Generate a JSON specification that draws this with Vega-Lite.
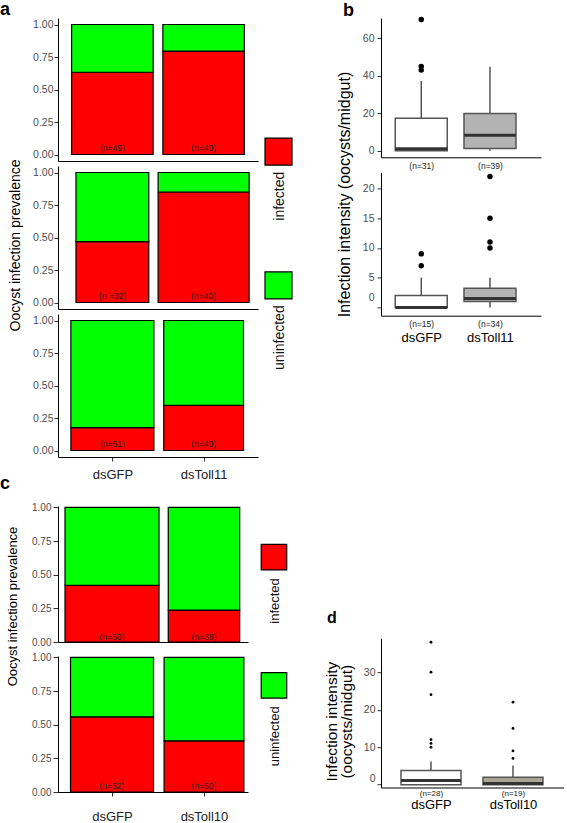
{
  "$schema": "https://vega.github.io/schema/vega-lite/v6.json",
  "background": "white",
  "padding": 0,
  "config": {
    "font": "Liberation Sans",
    "view": {"stroke": null},
    "axis": {"grid": false, "domainColor": "#000", "domainWidth": 1, "tickColor": "#333", "tickWidth": 1, "labelColor": "#4d4d4d", "titleColor": "#000", "titleFontWeight": "normal", "labelFont": "Liberation Sans", "titleFont": "Liberation Sans", "labelOverlap": false},
    "title": {"font": "Liberation Sans", "fontWeight": "bold", "anchor": "start", "frame": "group", "baseline": "alphabetic", "color": "#000"}
  },
  "datasets": {
    "prev": [
      {"panel": "a1", "group": "dsGFP", "n": 49, "status": "infected", "prop": 0.6327, "label": "(n=49)"},
      {"panel": "a1", "group": "dsGFP", "n": 49, "status": "uninfected", "prop": 0.3673, "label": "(n=49)"},
      {"panel": "a1", "group": "dsToll11", "n": 49, "status": "infected", "prop": 0.7959, "label": "(n=49)"},
      {"panel": "a1", "group": "dsToll11", "n": 49, "status": "uninfected", "prop": 0.2041, "label": "(n=49)"},
      {"panel": "a2", "group": "dsGFP", "n": 32, "status": "infected", "prop": 0.46875, "label": "(n =32)"},
      {"panel": "a2", "group": "dsGFP", "n": 32, "status": "uninfected", "prop": 0.53125, "label": "(n =32)"},
      {"panel": "a2", "group": "dsToll11", "n": 40, "status": "infected", "prop": 0.85, "label": "(n=40)"},
      {"panel": "a2", "group": "dsToll11", "n": 40, "status": "uninfected", "prop": 0.15, "label": "(n=40)"},
      {"panel": "a3", "group": "dsGFP", "n": 51, "status": "infected", "prop": 0.1765, "label": "(n=51)"},
      {"panel": "a3", "group": "dsGFP", "n": 51, "status": "uninfected", "prop": 0.8235, "label": "(n=51)"},
      {"panel": "a3", "group": "dsToll11", "n": 49, "status": "infected", "prop": 0.3469, "label": "(n=49)"},
      {"panel": "a3", "group": "dsToll11", "n": 49, "status": "uninfected", "prop": 0.6531, "label": "(n=49)"},
      {"panel": "c1", "group": "dsGFP", "n": 50, "status": "infected", "prop": 0.42, "label": "(n=50)"},
      {"panel": "c1", "group": "dsGFP", "n": 50, "status": "uninfected", "prop": 0.58, "label": "(n=50)"},
      {"panel": "c1", "group": "dsToll10", "n": 38, "status": "infected", "prop": 0.2368, "label": "(n=38)"},
      {"panel": "c1", "group": "dsToll10", "n": 38, "status": "uninfected", "prop": 0.7632, "label": "(n=38)"},
      {"panel": "c2", "group": "dsGFP", "n": 52, "status": "infected", "prop": 0.5577, "label": "(n=52)"},
      {"panel": "c2", "group": "dsGFP", "n": 52, "status": "uninfected", "prop": 0.4423, "label": "(n=52)"},
      {"panel": "c2", "group": "dsToll10", "n": 50, "status": "infected", "prop": 0.38, "label": "(n=50)"},
      {"panel": "c2", "group": "dsToll10", "n": 50, "status": "uninfected", "prop": 0.62, "label": "(n=50)"}
    ],
    "box": [
      {"panel": "b1", "group": "dsGFP", "n": 31, "lo": 0, "q1": 0, "med": 1, "q3": 17.3, "hi": 37.2},
      {"panel": "b1", "group": "dsToll11", "n": 39, "lo": 0, "q1": 1.2, "med": 8.2, "q3": 19.9, "hi": 44.8},
      {"panel": "b2", "group": "dsGFP", "n": 15, "lo": 0, "q1": 0, "med": 0, "q3": 2, "hi": 5},
      {"panel": "b2", "group": "dsToll11", "n": 34, "lo": 0, "q1": 1, "med": 1.5, "q3": 3.2, "hi": 5},
      {"panel": "d", "group": "dsGFP", "n": 28, "lo": 0, "q1": 0, "med": 1.1, "q3": 3.8, "hi": 6.2},
      {"panel": "d", "group": "dsToll10", "n": 19, "lo": 0, "q1": 0, "med": 0.3, "q3": 2.0, "hi": 5.1}
    ],
    "out": [
      {"panel": "b1", "group": "dsGFP", "value": 70},
      {"panel": "b1", "group": "dsGFP", "value": 45},
      {"panel": "b1", "group": "dsGFP", "value": 43},
      {"panel": "b2", "group": "dsGFP", "value": 9},
      {"panel": "b2", "group": "dsGFP", "value": 7},
      {"panel": "b2", "group": "dsToll11", "value": 22},
      {"panel": "b2", "group": "dsToll11", "value": 15},
      {"panel": "b2", "group": "dsToll11", "value": 11},
      {"panel": "b2", "group": "dsToll11", "value": 10},
      {"panel": "d", "group": "dsGFP", "value": 38},
      {"panel": "d", "group": "dsGFP", "value": 30},
      {"panel": "d", "group": "dsGFP", "value": 24},
      {"panel": "d", "group": "dsGFP", "value": 12},
      {"panel": "d", "group": "dsGFP", "value": 11},
      {"panel": "d", "group": "dsGFP", "value": 10},
      {"panel": "d", "group": "dsToll10", "value": 22},
      {"panel": "d", "group": "dsToll10", "value": 15},
      {"panel": "d", "group": "dsToll10", "value": 9},
      {"panel": "d", "group": "dsToll10", "value": 7}
    ]
  },
  "spacing": 0,
  "resolve": {"scale": {"color": "independent", "size": "independent"}},
  "hconcat": [
    {
      "spacing": -6,
      "resolve": {"scale": {"color": "independent", "size": "independent"}},
      "vconcat": [
        {
          "bounds": "flush",
          "spacing": 5,
          "resolve": {"scale": {"color": "independent", "size": "independent"}},
          "vconcat": [
            {
              "width": 200, "height": 143,
              "title": {"text": "a", "fontSize": 18, "dx": -58, "offset": -0.5},
              "data": {"name": "prev"},
              "transform": [{"filter": "datum.panel == 'a1'"}],
              "layer": [
                {
                  "mark": {"type": "bar", "stroke": "#000", "strokeWidth": 1.2},
                  "encoding": {
                    "x": {"field": "group", "type": "nominal", "scale": {"type": "point", "padding": 0.596, "align": 0.5}, "axis": {"title": null, "labels": false, "ticks": false}},
                    "y": {"field": "prop", "type": "quantitative", "stack": "zero", "scale": {"domain": [-0.05, 1.05], "nice": false, "zero": false}, "axis": {"title": null, "values": [0, 0.25, 0.5, 0.75, 1], "tickCount": 20, "format": ".2f", "tickSize": 4, "labelPadding": 1, "labelFontSize": 10.5, "labelOverlap": false}},
                    "color": {"field": "status", "type": "nominal", "scale": {"domain": ["infected", "uninfected"], "range": ["#ff0000", "#00ff00"]}, "legend": null},
                    "size": {"field": "n", "type": "quantitative", "scale": {"domain": [0, 49], "range": [0, 81.5]}, "legend": null},
                    "order": {"field": "status", "sort": "ascending"}
                  }
                },
                {
                  "transform": [{"filter": "datum.status == 'infected'"}],
                  "mark": {"type": "text", "fontSize": 8.5, "color": "#222"},
                  "encoding": {"x": {"field": "group", "type": "nominal"}, "y": {"datum": 0.05}, "text": {"field": "label"}}
                }
              ]
            },
            {
              "width": 200, "height": 143,
              "data": {"name": "prev"},
              "transform": [{"filter": "datum.panel == 'a2'"}],
              "layer": [
                {
                  "mark": {"type": "bar", "stroke": "#000", "strokeWidth": 1.2},
                  "encoding": {
                    "x": {"field": "group", "type": "nominal", "scale": {"type": "point", "padding": 0.596, "align": 0.5}, "axis": {"title": null, "labels": false, "ticks": false}},
                    "y": {"field": "prop", "type": "quantitative", "stack": "zero", "scale": {"domain": [-0.05, 1.05], "nice": false, "zero": false}, "axis": {"title": "Oocyst infection prevalence", "titleFontSize": 14, "titlePadding": 10, "titleY": 79, "values": [0, 0.25, 0.5, 0.75, 1], "tickCount": 20, "format": ".2f", "tickSize": 4, "labelPadding": 1, "labelFontSize": 10.5, "labelOverlap": false}},
                    "color": {"field": "status", "type": "nominal", "scale": {"domain": ["infected", "uninfected"], "range": ["#ff0000", "#00ff00"]}, "legend": null},
                    "size": {"field": "n", "type": "quantitative", "scale": {"domain": [0, 40], "range": [0, 91]}, "legend": null},
                    "order": {"field": "status", "sort": "ascending"}
                  }
                },
                {
                  "transform": [{"filter": "datum.status == 'infected'"}],
                  "mark": {"type": "text", "fontSize": 8.5, "color": "#222"},
                  "encoding": {"x": {"field": "group", "type": "nominal"}, "y": {"datum": 0.05}, "text": {"field": "label"}}
                }
              ]
            },
            {
              "width": 200, "height": 143,
              "data": {"name": "prev"},
              "transform": [{"filter": "datum.panel == 'a3'"}],
              "layer": [
                {
                  "mark": {"type": "bar", "stroke": "#000", "strokeWidth": 1.2},
                  "encoding": {
                    "x": {"field": "group", "type": "nominal", "scale": {"type": "point", "padding": 0.596, "align": 0.5}, "axis": {"title": null, "labelAngle": 0, "labelFontSize": 13, "labelColor": "#222", "tickSize": 4, "labelPadding": 7}},
                    "y": {"field": "prop", "type": "quantitative", "stack": "zero", "scale": {"domain": [-0.05, 1.05], "nice": false, "zero": false}, "axis": {"title": null, "values": [0, 0.25, 0.5, 0.75, 1], "tickCount": 20, "format": ".2f", "tickSize": 4, "labelPadding": 1, "labelFontSize": 10.5, "labelOverlap": false}},
                    "color": {"field": "status", "type": "nominal", "scale": {"domain": ["infected", "uninfected"], "range": ["#ff0000", "#00ff00"]}, "legend": null},
                    "size": {"field": "n", "type": "quantitative", "scale": {"domain": [0, 51], "range": [0, 83]}, "legend": null},
                    "order": {"field": "status", "sort": "ascending"}
                  }
                },
                {
                  "transform": [{"filter": "datum.status == 'infected'"}],
                  "mark": {"type": "text", "fontSize": 8.5, "color": "#222"},
                  "encoding": {"x": {"field": "group", "type": "nominal"}, "y": {"datum": 0.05}, "text": {"field": "label"}}
                }
              ]
            }
          ]
        },
        {
          "bounds": "flush",
          "spacing": 14,
          "resolve": {"scale": {"color": "independent", "size": "independent"}},
          "vconcat": [
            {
              "width": 190, "height": 136,
              "title": {"text": "c", "fontSize": 18, "dx": -58, "offset": 9.3},
              "data": {"name": "prev"},
              "transform": [{"filter": "datum.panel == 'c1'"}],
              "layer": [
                {
                  "mark": {"type": "bar", "stroke": "#000", "strokeWidth": 1.2},
                  "encoding": {
                    "x": {"field": "group", "type": "nominal", "scale": {"type": "point", "padding": 0.533, "align": 0.551}, "axis": {"title": null, "labels": false, "ticks": false}},
                    "y": {"field": "prop", "type": "quantitative", "stack": "zero", "scale": {"domain": [0, 1.01], "nice": false, "zero": false}, "axis": {"title": "Oocyst infection prevalence", "titleFontSize": 13, "titlePadding": 12, "titleY": 100, "values": [0, 0.25, 0.5, 0.75, 1], "tickCount": 20, "format": ".2f", "tickSize": 5, "labelPadding": 2, "labelFontSize": 10, "labelOverlap": false}},
                    "color": {"field": "status", "type": "nominal", "scale": {"domain": ["infected", "uninfected"], "range": ["#ff0000", "#00ff00"]}, "legend": null},
                    "size": {"field": "n", "type": "quantitative", "scale": {"domain": [0, 50], "range": [0, 94]}, "legend": null},
                    "order": {"field": "status", "sort": "ascending"}
                  }
                },
                {
                  "transform": [{"filter": "datum.status == 'infected'"}],
                  "mark": {"type": "text", "fontSize": 8.5, "color": "#222"},
                  "encoding": {"x": {"field": "group", "type": "nominal"}, "y": {"datum": 0.04}, "text": {"field": "label"}}
                }
              ]
            },
            {
              "width": 190, "height": 136,
              "data": {"name": "prev"},
              "transform": [{"filter": "datum.panel == 'c2'"}],
              "layer": [
                {
                  "mark": {"type": "bar", "stroke": "#000", "strokeWidth": 1.2},
                  "encoding": {
                    "x": {"field": "group", "type": "nominal", "scale": {"type": "point", "padding": 0.533, "align": 0.551}, "axis": {"title": null, "labelAngle": 0, "labelFontSize": 13, "labelColor": "#222", "tickSize": 4, "labelPadding": 14}},
                    "y": {"field": "prop", "type": "quantitative", "stack": "zero", "scale": {"domain": [0, 1.01], "nice": false, "zero": false}, "axis": {"title": null, "values": [0, 0.25, 0.5, 0.75, 1], "tickCount": 20, "format": ".2f", "tickSize": 5, "labelPadding": 2, "labelFontSize": 10, "labelOverlap": false}},
                    "color": {"field": "status", "type": "nominal", "scale": {"domain": ["infected", "uninfected"], "range": ["#ff0000", "#00ff00"]}, "legend": null},
                    "size": {"field": "n", "type": "quantitative", "scale": {"domain": [0, 52], "range": [0, 83]}, "legend": null},
                    "order": {"field": "status", "sort": "ascending"}
                  }
                },
                {
                  "transform": [{"filter": "datum.status == 'infected'"}],
                  "mark": {"type": "text", "fontSize": 8.5, "color": "#222"},
                  "encoding": {"x": {"field": "group", "type": "nominal"}, "y": {"datum": 0.045}, "text": {"field": "label"}}
                }
              ]
            }
          ]
        }
      ]
    },
    {
      "bounds": "flush",
      "spacing": 10,
      "resolve": {"scale": {"color": "independent", "size": "independent"}},
      "vconcat": [
        {
          "width": 61, "height": 401,
          "data": {"values": [{"status": "infected"}, {"status": "uninfected"}]},
          "encoding": {
            "x": {"datum": "legend", "type": "nominal", "scale": {"type": "point", "align": 0.254}, "axis": null},
            "y": {"field": "status", "type": "nominal", "scale": {"type": "point", "padding": 1.61}, "axis": null}
          },
          "layer": [
            {
              "mark": {"type": "point", "shape": "square", "filled": true, "size": 729, "stroke": "#000", "strokeWidth": 1.2, "opacity": 1},
              "encoding": {"color": {"field": "status", "type": "nominal", "scale": {"domain": ["infected", "uninfected"], "range": ["#ff0000", "#00ff00"]}, "legend": null}}
            },
            {
              "mark": {"type": "text", "angle": 270, "align": "right", "baseline": "middle", "dx": -20, "dy": 2, "fontSize": 14, "color": "#111"},
              "encoding": {"text": {"field": "status"}}
            }
          ]
        },
        {
          "width": 61, "height": 384.5,
          "data": {"values": [{"status": "infected"}, {"status": "uninfected"}]},
          "encoding": {
            "x": {"datum": "legend", "type": "nominal", "scale": {"type": "point", "align": 0.18}, "axis": null},
            "y": {"field": "status", "type": "nominal", "scale": {"type": "point", "padding": 1.513}, "axis": null}
          },
          "layer": [
            {
              "mark": {"type": "point", "shape": "square", "filled": true, "size": 650, "stroke": "#000", "strokeWidth": 1.2, "opacity": 1},
              "encoding": {"color": {"field": "status", "type": "nominal", "scale": {"domain": ["infected", "uninfected"], "range": ["#ff0000", "#00ff00"]}, "legend": null}}
            },
            {
              "mark": {"type": "text", "angle": 270, "align": "right", "baseline": "middle", "dx": -21, "dy": 1, "fontSize": 13, "color": "#111"},
              "encoding": {"text": {"field": "status"}}
            }
          ]
        }
      ]
    },
    {
      "bounds": "flush",
      "spacing": 14.4,
      "resolve": {"scale": {"color": "independent", "size": "independent"}},
      "vconcat": [
        {
          "width": 160, "height": 139.3,
          "title": {"text": "b", "fontSize": 18, "dx": -38, "offset": -3.5},
          "layer": [
            {
              "data": {"name": "box"}, "transform": [{"filter": "datum.panel == 'b1'"}],
              "mark": {"type": "rule", "color": "#555", "strokeWidth": 1.5},
              "encoding": {
                "x": {"field": "group", "type": "nominal", "scale": {"type": "point", "padding": 0.664, "align": 0.441}, "axis": {"title": null, "ticks": false, "labelAngle": 0, "labelFontSize": 8.5, "labelColor": "#222", "labelPadding": 4.5, "labelExpr": "datum.value == 'dsGFP' ? '(n=31)' : '(n=39)'"}},
                "y": {"field": "lo", "type": "quantitative", "scale": {"domain": [-3.5, 70.8], "nice": false, "zero": false}, "axis": {"title": "Infection intensity (oocysts/midgut)", "titleFontSize": 16, "titlePadding": 10, "titleY": 176, "values": [0, 20, 40, 60], "tickCount": 20, "tickSize": 4, "labelPadding": 3, "labelFontSize": 10.5, "labelOverlap": false}},
                "y2": {"field": "hi"}
              }
            },
            {
              "data": {"name": "box"}, "transform": [{"filter": "datum.panel == 'b1'"}],
              "mark": {"type": "bar", "width": 52, "stroke": "#555", "strokeWidth": 1.5},
              "encoding": {
                "x": {"field": "group", "type": "nominal"},
                "y": {"field": "q1", "type": "quantitative"},
                "y2": {"field": "q3"},
                "color": {"field": "group", "type": "nominal", "scale": {"domain": ["dsGFP", "dsToll11"], "range": ["#ffffff", "#b3b3b3"]}, "legend": null}
              }
            },
            {
              "data": {"name": "box"}, "transform": [{"filter": "datum.panel == 'b1'"}],
              "mark": {"type": "tick", "size": 52, "thickness": 3, "color": "#333", "opacity": 1},
              "encoding": {"x": {"field": "group", "type": "nominal"}, "y": {"field": "med", "type": "quantitative"}}
            },
            {
              "data": {"name": "out"}, "transform": [{"filter": "datum.panel == 'b1'"}],
              "mark": {"type": "point", "filled": true, "color": "#000", "size": 30, "opacity": 1},
              "encoding": {"x": {"field": "group", "type": "nominal"}, "y": {"field": "value", "type": "quantitative"}}
            }
          ]
        },
        {
          "width": 160, "height": 143.3,
          "resolve": {"axis": {"x": "independent"}},
          "layer": [
            {
              "data": {"name": "box"}, "transform": [{"filter": "datum.panel == 'b2'"}],
              "mark": {"type": "rule", "color": "#555", "strokeWidth": 1.5},
              "encoding": {
                "x": {"field": "group", "type": "nominal", "scale": {"type": "point", "padding": 0.664, "align": 0.441}, "axis": {"title": null, "ticks": false, "labelAngle": 0, "labelFontSize": 8.5, "labelColor": "#222", "labelPadding": 3.5, "labelExpr": "datum.value == 'dsGFP' ? '(n=15)' : '(n=34)'"}},
                "y": {"field": "lo", "type": "quantitative", "scale": {"domain": [-1.4, 22.7], "nice": false, "zero": false}, "axis": {"title": null, "values": [0, 5, 10, 15, 20], "tickCount": 20, "tickSize": 4, "labelPadding": 3, "labelFontSize": 10.5, "labelOverlap": false, "labelOffset": {"condition": {"test": "datum.value == 0", "value": -10}, "value": 0}}},
                "y2": {"field": "hi"}
              }
            },
            {
              "data": {"name": "box"}, "transform": [{"filter": "datum.panel == 'b2'"}],
              "mark": {"type": "bar", "width": 52, "stroke": "#555", "strokeWidth": 1.5},
              "encoding": {
                "x": {"field": "group", "type": "nominal", "axis": null},
                "y": {"field": "q1", "type": "quantitative"},
                "y2": {"field": "q3"},
                "color": {"field": "group", "type": "nominal", "scale": {"domain": ["dsGFP", "dsToll11"], "range": ["#ffffff", "#b3b3b3"]}, "legend": null}
              }
            },
            {
              "data": {"name": "box"}, "transform": [{"filter": "datum.panel == 'b2'"}],
              "mark": {"type": "tick", "size": 52, "thickness": 3, "color": "#333", "opacity": 1},
              "encoding": {"x": {"field": "group", "type": "nominal", "axis": null}, "y": {"field": "med", "type": "quantitative"}}
            },
            {
              "data": {"name": "out"}, "transform": [{"filter": "datum.panel == 'b2'"}],
              "mark": {"type": "point", "filled": true, "color": "#000", "size": 30, "opacity": 1},
              "encoding": {
                "x": {"field": "group", "type": "nominal", "axis": {"orient": "bottom", "title": null, "domain": false, "ticks": false, "labelAngle": 0, "labelFontSize": 13, "labelColor": "#000", "labelPadding": 15.5}},
                "y": {"field": "value", "type": "quantitative"}
              }
            }
          ]
        },
        {
          "width": 10, "height": 292.9,
          "data": {"values": [{"k": 0}]},
          "mark": {"type": "point", "opacity": 0}
        },
        {
          "width": 183, "height": 149.3,
          "title": {"text": "d", "fontSize": 16, "dx": -54, "offset": 11.8},
          "resolve": {"axis": {"x": "independent"}},
          "layer": [
            {
              "data": {"name": "box"}, "transform": [{"filter": "datum.panel == 'd'"}],
              "mark": {"type": "rule", "color": "#555", "strokeWidth": 1.5},
              "encoding": {
                "x": {"field": "group", "type": "nominal", "scale": {"type": "point", "padding": 0.616, "align": 0.495}, "axis": {"title": null, "ticks": false, "labelAngle": 0, "labelFontSize": 8, "labelColor": "#222", "labelPadding": 1.5, "labelExpr": "datum.value == 'dsGFP' ? '(n=28)' : '(n=19)'"}},
                "y": {"field": "lo", "type": "quantitative", "scale": {"domain": [-0.75, 39.07], "nice": false, "zero": false}, "axis": {"title": ["Infection intensity", "(oocysts/midgut)"], "titleFontSize": 15.5, "titleLineHeight": 15, "titlePadding": 9, "titleY": 83, "values": [0, 10, 20, 30], "tickCount": 20, "tickSize": 4, "labelPadding": 2, "labelFontSize": 10.5, "labelOverlap": false, "labelOffset": {"condition": {"test": "datum.value == 0", "value": -6.5}, "value": 0}}},
                "y2": {"field": "hi"}
              }
            },
            {
              "data": {"name": "box"}, "transform": [{"filter": "datum.panel == 'd'"}],
              "mark": {"type": "bar", "width": 60, "stroke": "#555", "strokeWidth": 1.5},
              "encoding": {
                "x": {"field": "group", "type": "nominal", "axis": null},
                "y": {"field": "q1", "type": "quantitative"},
                "y2": {"field": "q3"},
                "color": {"field": "group", "type": "nominal", "scale": {"domain": ["dsGFP", "dsToll10"], "range": ["#ffffff", "#aba797"]}, "legend": null}
              }
            },
            {
              "data": {"name": "box"}, "transform": [{"filter": "datum.panel == 'd'"}],
              "mark": {"type": "tick", "size": 60, "thickness": 3, "color": "#333", "opacity": 1},
              "encoding": {"x": {"field": "group", "type": "nominal", "axis": null}, "y": {"field": "med", "type": "quantitative"}}
            },
            {
              "data": {"name": "out"}, "transform": [{"filter": "datum.panel == 'd'"}],
              "mark": {"type": "point", "filled": true, "color": "#000", "size": 8, "opacity": 1},
              "encoding": {
                "x": {"field": "group", "type": "nominal", "axis": {"orient": "bottom", "title": null, "domain": false, "ticks": false, "labelAngle": 0, "labelFontSize": 13, "labelColor": "#000", "labelPadding": 11}},
                "y": {"field": "value", "type": "quantitative"}
              }
            }
          ]
        },
        {
          "width": 10, "height": 17,
          "data": {"values": [{"k": 0}]},
          "mark": {"type": "point", "opacity": 0}
        }
      ]
    }
  ]
}
